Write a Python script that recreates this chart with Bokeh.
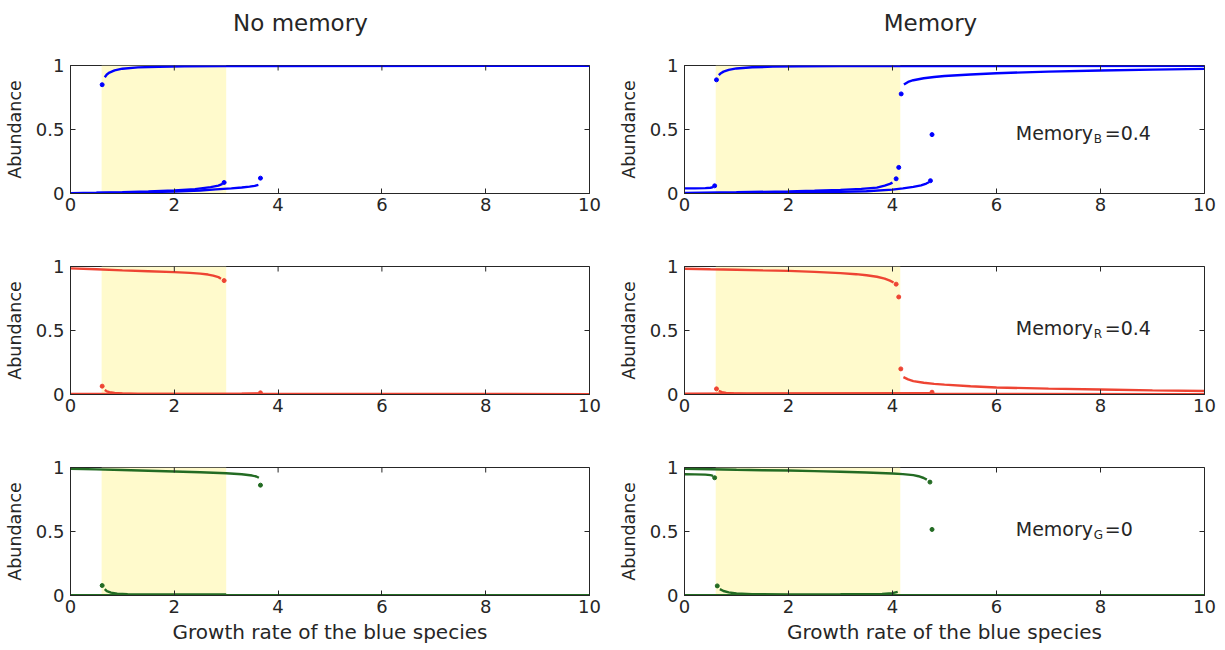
import math

from bokeh.plotting import figure
from bokeh.layouts import column, row
from bokeh.models import Range1d, BoxAnnotation, Label
from bokeh.core.properties import value
from bokeh.embed import file_html
from bokeh.resources import INLINE

FONT = "DejaVu Sans"
INK = "#262626"
BLUE = "#0000FF"
RED = "#EE4433"
GREEN = "#236B23"
SHADE = "#FFFACC"

# axis ticks
x_ticks = [0, 2, 4, 6, 8, 10]
y_ticks = [0, 0.5, 1]
y_tick_labels = ["0", "0.5", "1"]

# bistable windows (growth rate of the blue species)
nm_window = [0.6, 3.0]
m_window = [0.6, 4.15]

# ---------------- No memory: blue ----------------
nm_b_hi_x = [0.66, 0.7, 0.75, 0.85, 1.0, 1.3, 1.7, 2.2, 3.0, 10]
nm_b_hi_y = [0.908, 0.93, 0.945, 0.962, 0.975, 0.985, 0.99, 0.994, 0.996, 0.997]
nm_b_lo1_x = [0, 0.5, 1, 1.5, 2, 2.4, 2.7, 2.85, 2.93]
nm_b_lo1_y = [0.003, 0.006, 0.01, 0.016, 0.024, 0.034, 0.05, 0.062, 0.075]
nm_b_lo2_x = [0, 0.5, 1, 1.5, 2, 2.5, 2.8, 3.1, 3.3, 3.45, 3.55, 3.62]
nm_b_lo2_y = [0.002, 0.004, 0.007, 0.011, 0.016, 0.024, 0.032, 0.04, 0.047, 0.054, 0.06, 0.068]
nm_b_dots_x = [0.61, 2.96, 3.66]
nm_b_dots_y = [0.85, 0.086, 0.12]

# ---------------- No memory: red ----------------
nm_r_hi_x = [0, 0.5, 1, 1.5, 2, 2.3, 2.5, 2.65, 2.75, 2.85, 2.9]
nm_r_hi_y = [0.985, 0.978, 0.97, 0.963, 0.956, 0.95, 0.944, 0.937, 0.929, 0.917, 0.905]
nm_r_lo_x = [0.66, 0.7, 0.75, 0.85, 1.0, 1.3, 10]
nm_r_lo_y = [0.035, 0.025, 0.018, 0.012, 0.008, 0.005, 0.003]
nm_r_base_x = [0, 2, 3.3, 3.62]
nm_r_base_y = [0.004, 0.004, 0.006, 0.009]
nm_r_dots_x = [2.96, 0.61, 3.66]
nm_r_dots_y = [0.89, 0.065, 0.013]

# ---------------- No memory: green ----------------
nm_g_hi_x = [0, 0.5, 1, 1.5, 2, 2.5, 3, 3.3, 3.5, 3.58, 3.63]
nm_g_hi_y = [0.99, 0.985, 0.98, 0.975, 0.969, 0.963, 0.955, 0.947, 0.937, 0.93, 0.92]
nm_g_lo_x = [0.66, 0.7, 0.78, 0.9, 1.1, 1.5, 3.0]
nm_g_lo_y = [0.05, 0.035, 0.022, 0.014, 0.01, 0.008, 0.008]
nm_g_base_x = [0, 10]
nm_g_base_y = [0.003, 0.003]
nm_g_dots_x = [3.66, 0.61]
nm_g_dots_y = [0.862, 0.078]

# ---------------- Memory: blue ----------------
m_b_hi1_x = [0.66, 0.7, 0.75, 0.85, 1.0, 1.3, 1.7, 2.2, 3.0, 10]
m_b_hi1_y = [0.925, 0.94, 0.952, 0.966, 0.977, 0.986, 0.991, 0.994, 0.996, 0.997]
m_b_hi2_x = [4.22, 4.3, 4.4, 4.6, 4.8, 5.0, 5.5, 6, 7, 8, 9, 10]
m_b_hi2_y = [0.851, 0.872, 0.885, 0.9, 0.91, 0.918, 0.93, 0.94, 0.952, 0.961, 0.968, 0.974]
m_b_lo_a_x = [0, 0.2, 0.4, 0.5, 0.55]
m_b_lo_a_y = [0.04, 0.04, 0.042, 0.045, 0.05]
m_b_lo_b_x = [0, 1, 2, 2.5, 3, 3.4, 3.7, 3.85, 3.95, 4.0]
m_b_lo_b_y = [0.005, 0.01, 0.016, 0.021, 0.028, 0.036, 0.046, 0.062, 0.075, 0.085]
m_b_lo_c_x = [0, 1, 2, 3, 3.5, 4.0, 4.2, 4.4, 4.55, 4.65, 4.7]
m_b_lo_c_y = [0.002, 0.004, 0.008, 0.013, 0.018, 0.03, 0.04, 0.052, 0.064, 0.078, 0.088]
m_b_dots_x = [0.615, 4.167, 4.76, 0.58, 4.07, 4.12, 4.73]
m_b_dots_y = [0.888, 0.778, 0.46, 0.06, 0.115, 0.204, 0.1]

# ---------------- Memory: red ----------------
m_r_hi_x = [0, 0.5, 1, 1.5, 2, 2.5, 3, 3.3, 3.5, 3.7, 3.85, 3.95, 4.02]
m_r_hi_y = [0.982, 0.978, 0.975, 0.97, 0.966, 0.958, 0.948, 0.94, 0.932, 0.92, 0.905, 0.89, 0.875]
m_r_lo2_x = [4.21, 4.3, 4.4, 4.6, 4.8, 5, 5.5, 6, 7, 8, 9, 10]
m_r_lo2_y = [0.136, 0.118, 0.105, 0.092, 0.083, 0.077, 0.064, 0.055, 0.046, 0.039, 0.032, 0.027]
m_r_lo_x = [0.66, 0.72, 0.8, 0.95, 1.2, 10]
m_r_lo_y = [0.028, 0.018, 0.012, 0.008, 0.005, 0.003]
m_r_base_x = [0, 4.72]
m_r_base_y = [0.006, 0.01]
m_r_dots_x = [4.07, 4.12, 4.16, 0.615, 4.76]
m_r_dots_y = [0.862, 0.762, 0.2, 0.044, 0.018]

# ---------------- Memory: green ----------------
m_g_hi_a_x = [0, 0.5, 1, 1.5, 2, 2.5, 3, 3.5, 4, 4.2, 4.4, 4.5, 4.6, 4.66]
m_g_hi_a_y = [0.99, 0.986, 0.982, 0.979, 0.976, 0.972, 0.967, 0.961, 0.953, 0.948, 0.94, 0.932, 0.918, 0.905]
m_g_hi_b_x = [0, 0.2, 0.4, 0.5, 0.55]
m_g_hi_b_y = [0.947, 0.946, 0.944, 0.94, 0.935]
m_g_lo_x = [0.68, 0.75, 0.85, 1.0, 1.3, 2, 3, 3.8, 4.0, 4.1]
m_g_lo_y = [0.05, 0.035, 0.024, 0.016, 0.011, 0.009, 0.01, 0.013, 0.018, 0.028]
m_g_base_x = [0, 10]
m_g_base_y = [0.003, 0.003]
m_g_dots_x = [4.72, 0.58, 4.76, 0.63]
m_g_dots_y = [0.886, 0.92, 0.516, 0.075]

# memory annotations
memory_labels = [("B", "=0.4"), ("R", "=0.4"), ("G", "=0")]
memory_label_x = 6.37
memory_label_y = [0.47, 0.52, 0.52]

# column headings and where they are centred along the growth-rate axis
titles = ["No memory", "Memory"]
title_x = [4.43, 4.73]
x_label = "Growth rate of the blue species"
y_label = "Abundance"

FRAME_H = 128
HEAD_H = 50


def frame_width(left_col):
    return 519 if left_col else 520


def right_border(left_col):
    return 25 if left_col else 21


def make_heading(text, tx, left_col):
    h = figure(
        frame_width=frame_width(left_col), frame_height=HEAD_H,
        x_range=Range1d(0, 10), y_range=Range1d(0, HEAD_H),
        output_backend="svg", toolbar_location=None,
        min_border_left=70, min_border_right=right_border(left_col),
        min_border_top=0, min_border_bottom=0,
        outline_line_color=None, border_fill_color="white",
    )
    h.axis.visible = False
    h.grid.visible = False
    h.text(x=[tx], y=[HEAD_H - 22], text=[text], text_align="center",
           text_baseline="middle", text_font=value(FONT), text_font_size="23px",
           text_color=INK)
    return h


def make_panel(branches, dots, color, window, left_col, top, bottom):
    p = figure(
        frame_width=frame_width(left_col), frame_height=FRAME_H,
        x_range=Range1d(0, 10), y_range=Range1d(0, 1),
        output_backend="svg", toolbar_location=None,
        min_border_left=70,
        min_border_right=right_border(left_col),
        min_border_top=15 if top else 33,
        min_border_bottom=55 if bottom else 40,
        background_fill_color="white", border_fill_color="white",
        outline_line_color=INK,
    )
    p.grid.visible = False

    p.add_layout(BoxAnnotation(left=window[0], right=window[1], fill_color=SHADE,
                               fill_alpha=1.0, line_color=None, level="underlay"))

    for bx, by in branches:
        p.line(bx, by, line_color=color, line_width=2.4)
    p.scatter(dots[0], dots[1], size=4, color=color)

    # inward tick marks along the top and right edges of the box
    p.scatter(x_ticks, [1] * len(x_ticks), marker="dash", angle=math.pi / 2, size=10,
              line_color=INK, line_width=1)
    p.scatter([10] * len(y_ticks), y_ticks, marker="dash", size=10,
              line_color=INK, line_width=1)

    for ax in (p.xaxis[0], p.yaxis[0]):
        ax.major_tick_in = 5
        ax.major_tick_out = 0
        ax.minor_tick_line_color = None
        ax.axis_line_color = INK
        ax.major_tick_line_color = INK
        ax.major_label_text_color = INK
        ax.major_label_text_font = FONT
        ax.major_label_text_font_size = "18px"
        ax.axis_label_text_font = FONT
        ax.axis_label_text_font_style = "normal"
        ax.axis_label_text_color = INK
    p.xaxis.axis_label_text_font_size = "20px"
    p.yaxis.axis_label_text_font_size = "17.5px"
    p.xaxis.ticker = x_ticks
    p.yaxis.ticker = y_ticks
    p.yaxis.major_label_overrides = dict(zip(y_ticks, y_tick_labels))
    p.xaxis.major_label_standoff = 4
    p.yaxis.major_label_standoff = 6
    p.yaxis.axis_label = y_label
    p.yaxis.axis_label_standoff = 8
    if bottom:
        p.xaxis.axis_label = x_label
        p.xaxis.axis_label_standoff = 4
    return p


def add_memory_label(p, sub, rest, y):
    common = dict(x=memory_label_x, y=y, text_color=INK, text_font=FONT, text_baseline="middle")
    p.add_layout(Label(text="Memory", text_font_size="19px", **common))
    p.add_layout(Label(text=sub, text_font_size="12px", x_offset=78, y_offset=-6, **common))
    p.add_layout(Label(text=rest, text_font_size="19px", x_offset=89, **common))


left_panels = [
    make_panel([(nm_b_hi_x, nm_b_hi_y), (nm_b_lo1_x, nm_b_lo1_y), (nm_b_lo2_x, nm_b_lo2_y)],
               (nm_b_dots_x, nm_b_dots_y), BLUE, nm_window, True, True, False),
    make_panel([(nm_r_hi_x, nm_r_hi_y), (nm_r_lo_x, nm_r_lo_y), (nm_r_base_x, nm_r_base_y)],
               (nm_r_dots_x, nm_r_dots_y), RED, nm_window, True, False, False),
    make_panel([(nm_g_hi_x, nm_g_hi_y), (nm_g_lo_x, nm_g_lo_y), (nm_g_base_x, nm_g_base_y)],
               (nm_g_dots_x, nm_g_dots_y), GREEN, nm_window, True, False, True),
]
right_panels = [
    make_panel([(m_b_hi1_x, m_b_hi1_y), (m_b_hi2_x, m_b_hi2_y), (m_b_lo_a_x, m_b_lo_a_y),
                (m_b_lo_b_x, m_b_lo_b_y), (m_b_lo_c_x, m_b_lo_c_y)],
               (m_b_dots_x, m_b_dots_y), BLUE, m_window, False, True, False),
    make_panel([(m_r_hi_x, m_r_hi_y), (m_r_lo2_x, m_r_lo2_y), (m_r_lo_x, m_r_lo_y),
                (m_r_base_x, m_r_base_y)],
               (m_r_dots_x, m_r_dots_y), RED, m_window, False, False, False),
    make_panel([(m_g_hi_a_x, m_g_hi_a_y), (m_g_hi_b_x, m_g_hi_b_y), (m_g_lo_x, m_g_lo_y),
                (m_g_base_x, m_g_base_y)],
               (m_g_dots_x, m_g_dots_y), GREEN, m_window, False, False, True),
]

for p, (sub, rest), y in zip(right_panels, memory_labels, memory_label_y):
    add_memory_label(p, sub, rest, y)

headings = [make_heading(t, tx, lc) for t, tx, lc in zip(titles, title_x, (True, False))]

layout = column(row(*headings), *[row(l, r) for l, r in zip(left_panels, right_panels)])

open("out.html", "w").write(file_html(layout, INLINE))
